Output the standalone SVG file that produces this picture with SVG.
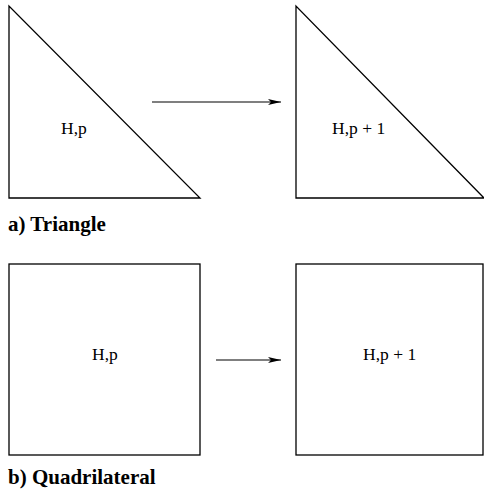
<svg xmlns="http://www.w3.org/2000/svg" width="484" height="498" viewBox="0 0 484 498">
<style>
.shape{fill:none;stroke:#000;stroke-width:1.3}
.lbl{font-family:"Liberation Serif","Times New Roman",serif;font-size:17.5px;fill:#000}
.cap{font-family:"Liberation Serif","Times New Roman",serif;font-size:21px;font-weight:bold;fill:#000}
.conn{fill:none;stroke:#000;stroke-width:1.2}
</style>
<defs>
<marker id="ah" markerWidth="14" markerHeight="8" refX="13" refY="4" orient="auto" markerUnits="userSpaceOnUse">
<path d="M0,1 L13,4 L0,7 L3,4 Z" fill="#000"/>
</marker>
</defs>
<rect width="484" height="498" fill="#fff"/>
<g id="tri1">
<path class="shape" d="M9,6 L9,198 L200,198 Z"/>
<text class="lbl" x="61" y="134">H,p</text>
</g>
<g id="tri2">
<path class="shape" d="M296,6 L296,198 L484,198 Z"/>
<text class="lbl" x="332" y="134">H,p + 1</text>
</g>
<g id="quad1">
<rect class="shape" x="9" y="264" width="191" height="191"/>
<text class="lbl" x="92" y="360">H,p</text>
</g>
<g id="quad2">
<rect class="shape" x="296" y="264" width="187" height="191"/>
<text class="lbl" x="363" y="360">H,p + 1</text>
</g>
<g id="captions">
<text class="cap" x="8" y="231">a) Triangle</text>
<text class="cap" x="8" y="484">b) Quadrilateral</text>
</g>
<g id="connectors">
<line class="conn" x1="152" y1="102" x2="281" y2="102" marker-end="url(#ah)"/>
<line class="conn" x1="216" y1="360" x2="281" y2="360" marker-end="url(#ah)"/>
</g>
</svg>
